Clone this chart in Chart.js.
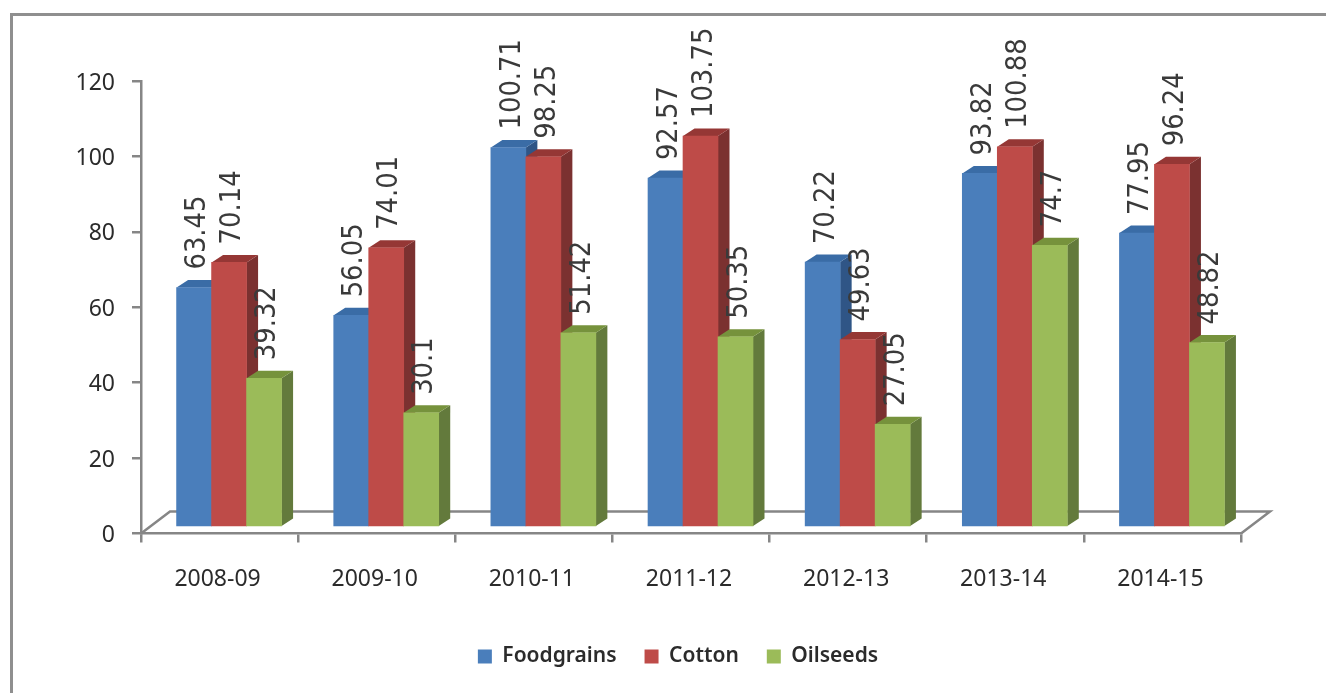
<!DOCTYPE html>
<html>
<head>
<meta charset="utf-8">
<title>Foodgrains, Cotton, Oilseeds</title>
<script src="https://cdn.jsdelivr.net/npm/chart.js@4"></script>
<style>
  html, body { margin: 0; background: #fff; overflow: hidden; }
  #frame { position: absolute; left: 10px; top: 13px; right: 0; bottom: 0; border-left: 3px solid #8f8f8f; border-top: 3px solid #8f8f8f; }
  canvas { position: absolute; left: 0; top: 0; }
</style>
</head>
<body>
<div id="frame"></div>
<canvas id="chart" width="1326" height="693"></canvas>
<script>
const years = ["2008-09", "2009-10", "2010-11", "2011-12", "2012-13", "2013-14", "2014-15"];
const foodgrains = [63.45, 56.05, 100.71, 92.57, 70.22, 93.82, 77.95];
const cotton = [70.14, 74.01, 98.25, 103.75, 49.63, 100.88, 96.24];
const oilseeds = [39.32, 30.1, 51.42, 50.35, 27.05, 74.7, 48.82];

const faceColors = ["#4a7ebb", "#be4b48", "#9bbb59"];
const topColors = ["#3a6ca6", "#953735", "#76923c"];
const sideColors = ["#2f5586", "#7b3130", "#637a3c"];
const axisColor = "#868686";
const textColor = "#2b2b2b";

// depth of the fake 3d
const barDx = 11.5, barDy = 7.5;
const floorDx = 29, floorDy = 22;

function poly(ctx, pts, color) {
  ctx.fillStyle = color;
  ctx.beginPath();
  pts.forEach((p, i) => i ? ctx.lineTo(p[0], p[1]) : ctx.moveTo(p[0], p[1]));
  ctx.closePath();
  ctx.fill();
}

const depth3d = {
  id: "depth3d",
  beforeDatasetsDraw(chart) {
    const ctx = chart.ctx;
    const a = chart.chartArea;

    // floor
    ctx.save();
    ctx.strokeStyle = axisColor;
    ctx.lineWidth = 2.5;
    ctx.beginPath();
    ctx.moveTo(a.left, a.bottom);
    ctx.lineTo(a.left + floorDx, a.bottom - floorDy);
    ctx.lineTo(a.right + floorDx, a.bottom - floorDy);
    ctx.lineTo(a.right, a.bottom);
    ctx.stroke();
    ctx.restore();

    // left to right so each bar covers the side of the one before
    chart.data.datasets.forEach((ds, i) => {
      chart.getDatasetMeta(i).data.forEach(bar => {
        const l = bar.x - bar.width / 2, r = bar.x + bar.width / 2;
        poly(ctx, [[r, bar.y], [r + barDx, bar.y - barDy], [r + barDx, bar.base - barDy], [r, bar.base]], sideColors[i]);
        poly(ctx, [[l, bar.y], [l + barDx, bar.y - barDy], [r + barDx, bar.y - barDy], [r, bar.y]], topColors[i]);
        bar.draw(ctx);
      });
    });
    return false;
  },
  afterDraw(chart) {
    const ctx = chart.ctx;
    chart.data.datasets.forEach((ds, i) => {
      chart.getDatasetMeta(i).data.forEach((bar, j) => {
        ctx.save();
        ctx.translate(bar.x + 4, bar.y - 18);
        ctx.rotate(-Math.PI / 2);
        ctx.scale(0.94, 1);
        ctx.font = "27.5px 'DejaVu Sans'";
        ctx.fillStyle = "#3a3a3a";
        ctx.textAlign = "left";
        ctx.textBaseline = "middle";
        ctx.fillText(String(ds.data[j].y), 0, 0);
        ctx.restore();
      });
    });
  }
};

function series(label, values, i) {
  return {
    label: label,
    data: values.map((v, k) => ({ x: k, y: v })),
    backgroundColor: faceColors[i],
    xAxisID: "xBars",
    yAxisID: "yBars",
    barThickness: 35
  };
}

new Chart(document.getElementById("chart").getContext("2d"), {
  type: "bar",
  data: {
    labels: years,
    datasets: [
      series("Foodgrains", foodgrains, 0),
      series("Cotton", cotton, 1),
      series("Oilseeds", oilseeds, 2)
    ]
  },
  plugins: [depth3d],
  options: {
    responsive: false,
    animation: false,
    layout: { padding: { left: 30, right: 0, top: 81, bottom: 16 } },
    plugins: {
      title: { display: false },
      tooltip: { enabled: false },
      legend: {
        position: "bottom",
        onClick: null,
        labels: {
          color: textColor,
          font: { family: "'Noto Sans'", size: 21, weight: "600" },
          boxWidth: 14,
          boxHeight: 14,
          padding: 28
        }
      }
    },
    scales: {
      x: {
        type: "category",
        offset: true,
        afterFit(s) { s.height = 84.5; },
        grid: { offset: true, drawOnChartArea: false, color: axisColor, lineWidth: 2.5, tickLength: 9 },
        border: { color: axisColor, width: 2.5 },
        ticks: { color: textColor, font: { family: "'Noto Sans'", size: 23 }, padding: 23.5, labelOffset: -2, maxRotation: 0 }
      },
      y: {
        min: 0,
        max: 120,
        afterFit(s) { s.width = 111; },
        grid: { drawOnChartArea: false, color: axisColor, lineWidth: 2.5, tickLength: 9 },
        border: { color: axisColor, width: 2.5 },
        ticks: { stepSize: 20, color: textColor, font: { family: "'Noto Sans'", size: 23 }, padding: 17, labelOffset: 2 }
      },
      // empty axis, keeps the plot clear of the right edge and the legend centred where it was
      yRight: {
        position: "right",
        afterFit(s) { s.width = 85; },
        grid: { display: false },
        border: { display: false },
        ticks: { display: false }
      },
      // bars stand on the front of the floor, a bit right of and above the axes
      xBars: { type: "linear", display: false, offset: false, min: -0.5605, max: 6.4395 },
      yBars: { display: false, min: -2, max: 118.4 }
    }
  }
});
</script>
</body>
</html>
